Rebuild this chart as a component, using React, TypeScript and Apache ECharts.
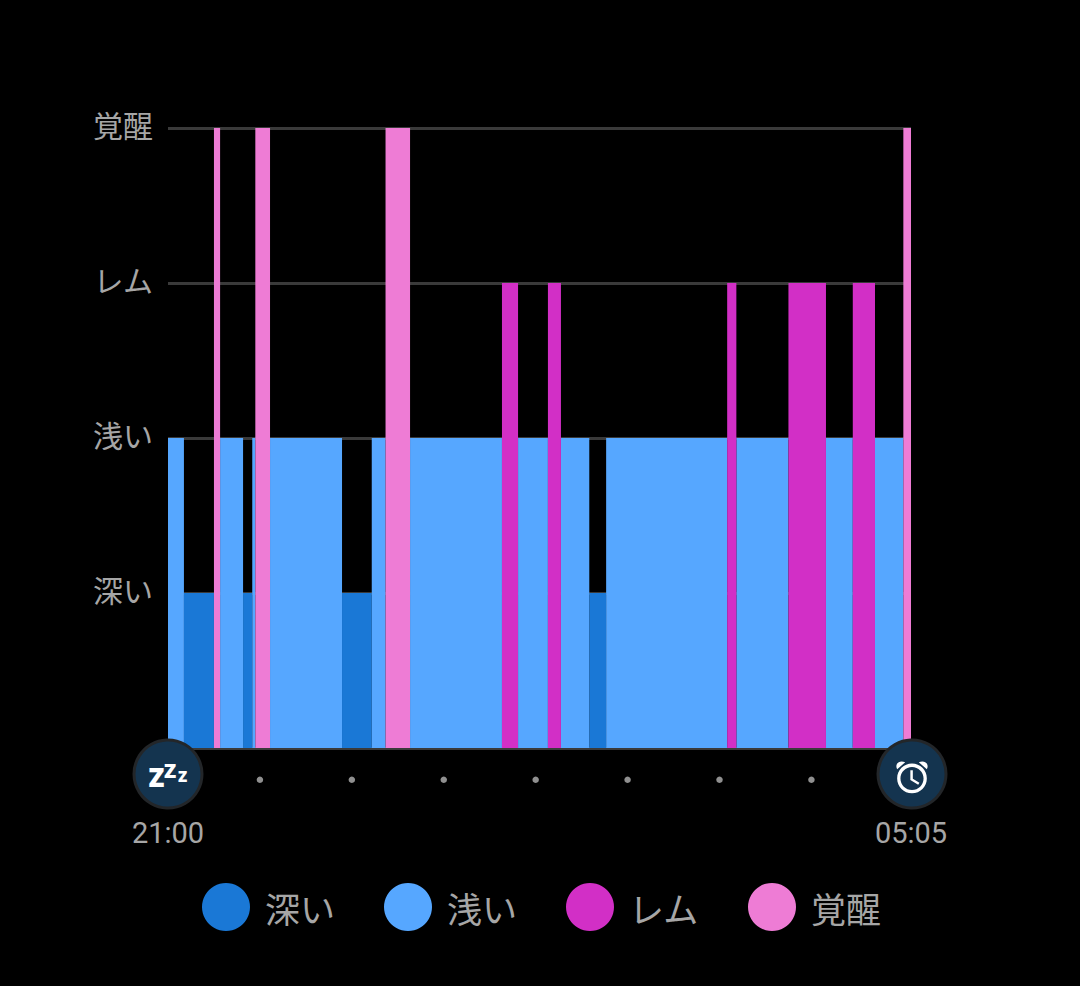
import React, { useEffect, useRef } from "react";
import * as echarts from "echarts";

const stageLabels = ["", "深い", "浅い", "レム", "覚醒"];
const timeLabels: Record<number, string> = { 0: "21:00", 485: "05:05" };
const hourMarks = [60, 120, 180, 240, 300, 360, 420];

// [start minute after 21:00, end minute]
const deepSegments = [[10.4, 30], [49, 55], [113.6, 133], [275, 286]];
const lightSegments = [
  [0, 10.4], [34, 49], [55, 57], [66.6, 113.6], [133, 142], [158, 218],
  [228.5, 248], [256.5, 275], [286, 365], [371, 405], [429.5, 447], [461.5, 480],
];
const remSegments = [[218, 228.5], [248, 256.5], [365, 371], [405, 429.5], [447, 461.5]];
const awakeSegments = [[30, 34], [57, 66.6], [142, 158], [480, 485]];

const ALARM =
  "M3 7.4C1.4 4.6 4 1.4 7.9 3.2ZM21 7.4C22.6 4.6 20 1.4 16.1 3.2ZM12.5 8H11v6l4.75 2.85.75-1.23-4-2.37V8zM12 4c-4.97 0-9 4.03-9 9s4.03 9 9 9 9-4.03 9-9-4.03-9-9-9zm0 16c-3.87 0-7-3.13-7-7s3.13-7 7-7 7 3.13 7 7-3.13 7-7 7z";
echarts.graphic.registerShape("alarmIcon", echarts.graphic.extendPath(ALARM, {}) as any);

const FONT = '"Noto Sans CJK JP", "Noto Sans", sans-serif';
const GREY = "#a6a6a6";

function stageSeries(name: string, level: number, color: string, segments: number[][]) {
  return {
    type: "custom",
    name,
    itemStyle: { color },
    encode: { x: [0, 1], y: 2 },
    data: segments.map(([s, e]) => [s, e, level]),
    renderItem: (_: any, api: any) => {
      const a = api.coord([api.value(0), api.value(2)]);
      const b = api.coord([api.value(1), 0]);
      return {
        type: "rect",
        shape: { x: a[0], y: a[1], width: b[0] - a[0], height: b[1] - a[1] },
        style: { fill: color },
      };
    },
  };
}

const badge = (cx: number, cy: number) => ({
  type: "circle",
  z: 20,
  shape: { cx, cy, r: 34 },
  style: { fill: "#14344f", stroke: "#232629", lineWidth: 3 },
});

const zText = (x: number, y: number, size: number) => ({
  type: "text",
  z: 21,
  x,
  y,
  style: {
    text: "Z",
    fill: "#ffffff",
    fontFamily: '"Open Sans", sans-serif',
    fontWeight: 800,
    fontSize: size,
    align: "center",
    verticalAlign: "middle",
  },
});

export default function App() {
  const ref = useRef<HTMLDivElement>(null);
  useEffect(() => {
    const chart = echarts.init(ref.current!, undefined, { renderer: "svg" });
    chart.setOption({
      animation: false,
      backgroundColor: "#000000",
      grid: { left: 168, right: 169, top: 128, height: 620 },
      xAxis: {
        type: "value",
        min: 0,
        max: 485,
        interval: 60,
        splitLine: { show: false },
        axisTick: { show: false },
        axisLine: { show: true, onZero: false, lineStyle: { color: "#3a3a3a", width: 3 } },
        axisLabel: {
          show: true,
          customValues: [0, 485],
          formatter: (v: number) => timeLabels[v] ?? "",
          color: GREY,
          fontFamily: "Roboto, sans-serif",
          fontSize: 29,
          margin: 70,
          hideOverlap: false,
          alignMinLabel: "center",
          alignMaxLabel: "center",
        },
      },
      yAxis: {
        type: "value",
        min: 0,
        max: 4,
        interval: 1,
        axisLine: { show: false },
        axisTick: { show: false },
        splitLine: { show: true, lineStyle: { color: "#3a3a3a", width: 3 } },
        axisLabel: {
          formatter: (v: number) => stageLabels[v] ?? "",
          color: GREY,
          fontFamily: FONT,
          fontSize: 30,
          margin: 15,
          verticalAlign: "bottom",
          lineHeight: 8,
        },
      },
      legend: {
        left: 197,
        top: 878,
        icon: "circle",
        itemWidth: 48,
        itemHeight: 48,
        itemGap: 49,
        selectedMode: false,
        data: ["深い", "浅い", "レム", "覚醒"],
        textStyle: {
          color: GREY,
          fontFamily: FONT,
          fontSize: 35,
          padding: [0, 0, 0, 10],
        },
      },
      series: [
        stageSeries("深い", 1, "#1a78d6", deepSegments),
        stageSeries("浅い", 2, "#56a7ff", lightSegments),
        stageSeries("レム", 3, "#d22fc6", remSegments),
        stageSeries("覚醒", 4, "#ee7cd5", awakeSegments),
        {
          type: "scatter",
          name: "hours",
          clip: false,
          symbol: "circle",
          symbolSize: 6.5,
          itemStyle: { color: "#b4b4b4" },
          data: hourMarks.map((m) => [m, -0.205]),
        },
      ],
      graphic: [
        badge(168, 774),
        zText(156.5, 777, 26),
        zText(170, 770, 20),
        zText(182.5, 776, 15),
        badge(912, 774),
        {
          type: "alarmIcon",
          z: 21,
          x: 912 - 12 * 1.65,
          y: 757,
          scaleX: 1.65,
          scaleY: 1.65,
          style: { fill: "#ffffff" },
        },
      ],
    });
    return () => chart.dispose();
  }, []);
  return (
    <div
      ref={ref}
      style={{ position: "absolute", left: 0, top: 0, width: 1080, height: 986, background: "#000" }}
    />
  );
}
